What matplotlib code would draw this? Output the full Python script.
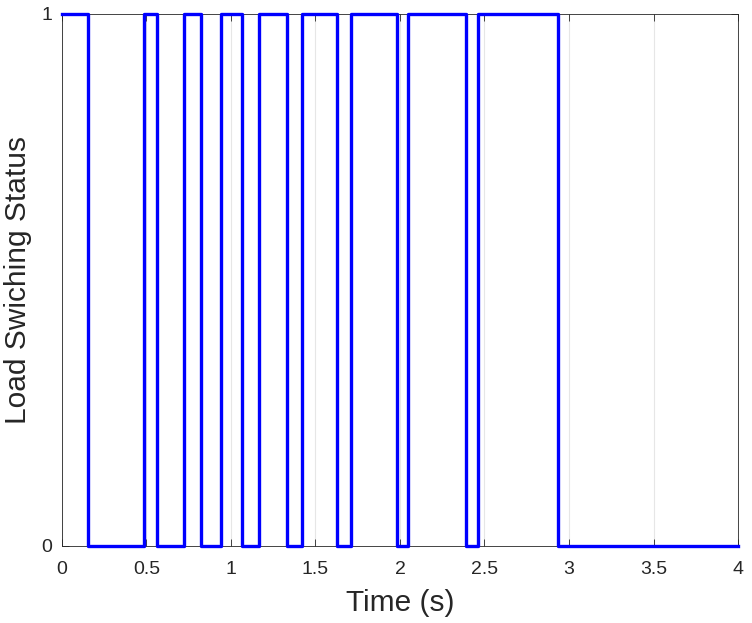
import matplotlib
matplotlib.use('Agg')
import matplotlib.pyplot as plt

# switching instants (s) and the status held after each one
switch_times = [0.0, 0.155, 0.485, 0.56, 0.72, 0.82, 0.94, 1.065, 1.165,
                1.33, 1.42, 1.63, 1.71, 1.98, 2.05, 2.39, 2.46, 2.935, 4.0]
status = [1, 0, 1, 0, 1, 0, 1, 0, 1, 0, 1, 0, 1, 0, 1, 0, 1, 0, 0]

x_ticks = [0, 0.5, 1, 1.5, 2, 2.5, 3, 3.5, 4]
x_tick_labels = ['0', '0.5', '1', '1.5', '2', '2.5', '3', '3.5', '4']

plt.rcParams['font.family'] = ['Liberation Sans', 'DejaVu Sans']

fig = plt.figure(figsize=(7.52, 6.23), dpi=100)
ax = fig.add_axes([0.0824, 0.1236, 0.899, 0.854])

ax.plot(switch_times, status, drawstyle='steps-post', color='#0000ff',
        linewidth=2.4, zorder=3, clip_on=False)

ax.set_xlim(0, 4)
ax.set_ylim(0, 1)
ax.set_xticks(x_ticks)
ax.set_xticklabels(x_tick_labels)
ax.set_yticks([0, 1])
ax.tick_params(direction='in', labelsize=14, length=5, width=0.6,
               colors='#262626', top=True, right=True)
ax.tick_params(axis='x', pad=11)
ax.tick_params(axis='y', pad=7)
ax.grid(axis='x', color='#e6e6e6', linewidth=0.8)
ax.set_axisbelow(True)
for s in ax.spines.values():
    s.set_color('#262626')
    s.set_linewidth(0.6)

ax.set_xlabel('Time (s)', fontsize=21.5, color='#262626', labelpad=8)
ax.set_ylabel('Load Swiching Status', fontsize=21.5, color='#262626', labelpad=7)

fig.savefig('out.png', dpi=100)
